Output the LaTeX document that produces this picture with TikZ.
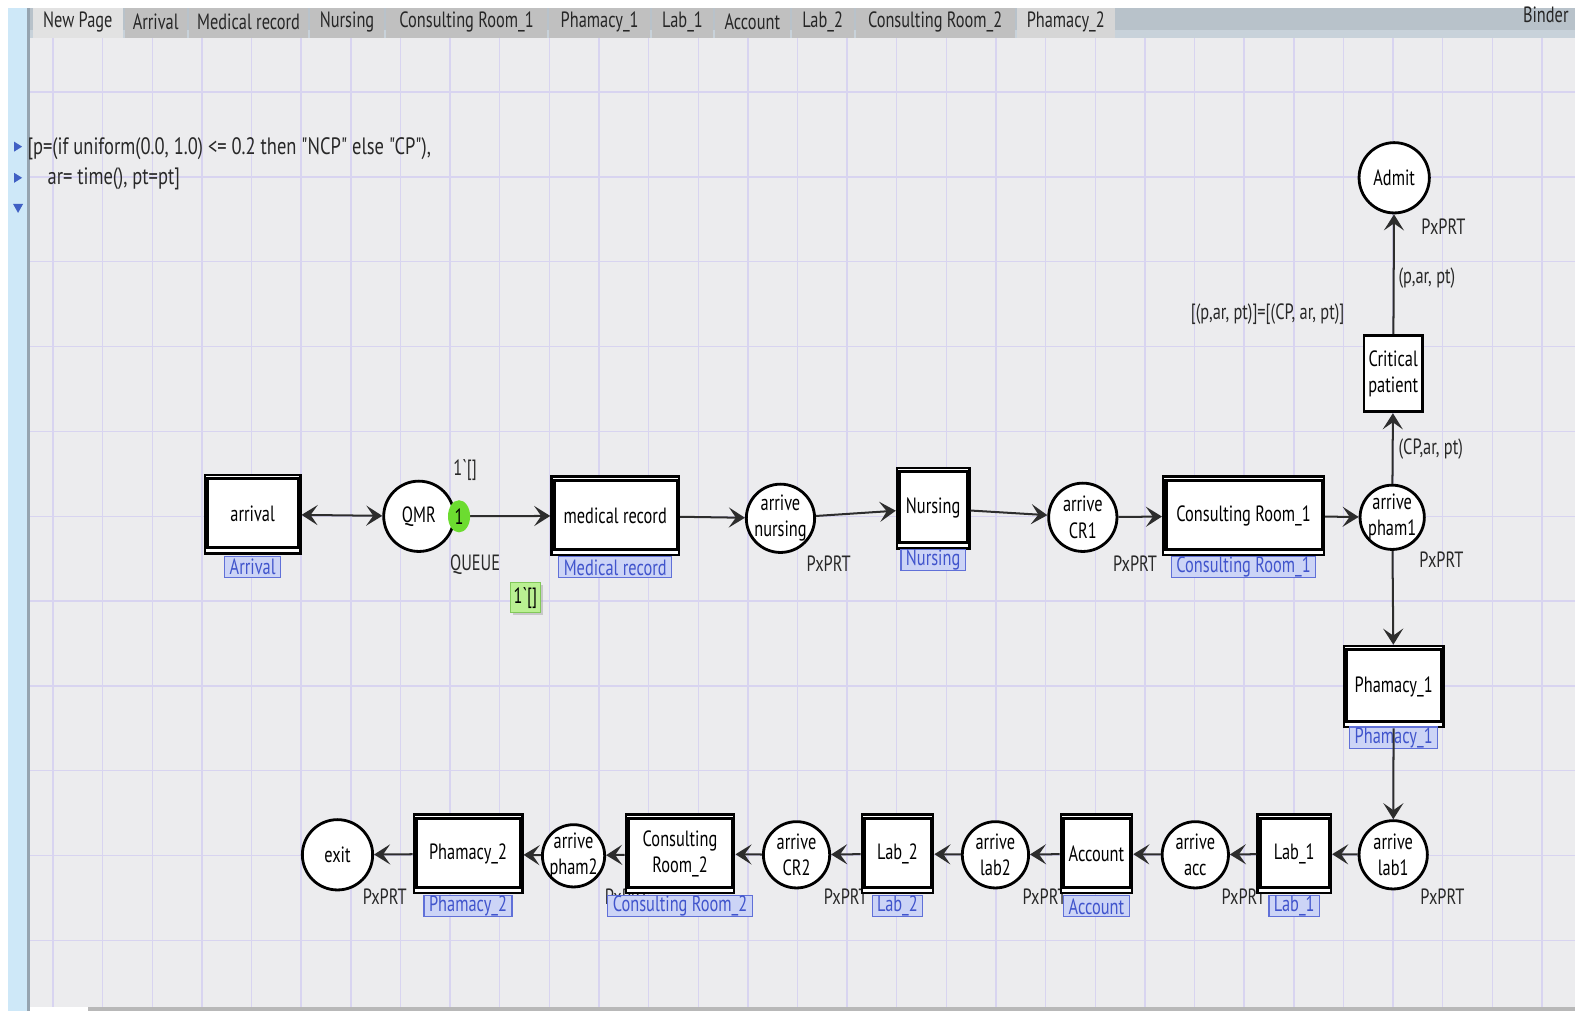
\documentclass[tikz,border=0pt]{standalone}
\usepackage{fontspec}
\setmainfont{PT Sans}[FakeStretch=0.74,Ligatures=TeXOff]
\newfontfamily\declfont{PT Sans}[FakeStretch=0.78,Ligatures=TeXOff]
\usetikzlibrary{positioning,arrows.meta,shapes.geometric,shadows}

\definecolor{canvas}{RGB}{236,236,238}
\definecolor{gridl}{RGB}{216,212,240}
\definecolor{leftbar}{RGB}{206,232,248}
\definecolor{leftedge}{RGB}{150,164,176}
\definecolor{barc}{RGB}{184,194,202}
\definecolor{barlow}{RGB}{200,210,218}
\definecolor{tabon}{RGB}{226,226,226}
\definecolor{taboff}{RGB}{192,192,192}
\definecolor{tabpale}{RGB}{214,214,214}
\definecolor{tagfill}{RGB}{204,212,246}
\definecolor{tagline}{RGB}{96,112,216}
\definecolor{tagtext}{RGB}{64,84,204}
\definecolor{inscr}{RGB}{40,40,40}
\definecolor{arcc}{RGB}{45,45,45}
\definecolor{tokgreen}{RGB}{108,220,48}
\definecolor{boxgreen}{RGB}{186,240,146}
\definecolor{boxline}{RGB}{130,200,90}
\definecolor{trib}{RGB}{64,96,196}

\newcommand{\lblfont}{\fontsize{11}{13}\selectfont}

\begin{document}
\begin{tikzpicture}[x=0.5pt,y=-0.5pt]
\tikzset{
  place/.style={circle,draw=black,line width=1.4pt,fill=white,minimum size=34pt,inner sep=0pt},
  ptxt/.style={align=center,font=\lblfont,inner sep=0pt},
  subst/.style={draw=black,line width=1.2pt,fill=white,inner sep=0pt,minimum height=39pt,font=\lblfont},
  trans/.style={draw=black,line width=1.4pt,fill=white,inner sep=0pt,align=center,font=\lblfont},
  tag/.style={draw=tagline,fill=tagfill,text=tagtext,line width=0.6pt,inner xsep=2.5pt,inner ysep=0pt,minimum height=10.5pt,font=\lblfont},
  ptype/.style={text=inscr,font=\lblfont,inner sep=0pt},
  arc/.style={draw=arcc,line width=1pt,-{Stealth[length=8pt,width=10pt,inset=3.5pt]}},
  arcs/.style={arc,{Stealth[length=8pt,width=10pt,inset=3.5pt]}-{Stealth[length=8pt,width=10pt,inset=3.5pt]}},
  tabtxt/.style={font=\lblfont,text=black!85,inner sep=0pt},
  tokbox/.style={draw=boxline,fill=boxgreen,line width=0.5pt,minimum size=15pt,inner sep=0pt,font=\lblfont,
    drop shadow={shadow xshift=1.2pt,shadow yshift=-1.2pt,fill=black!35}}
}
\useasboundingbox (0,0) rectangle (1568,1006);

% window frame
\fill[white] (0,0) rectangle (1568,1006);
\fill[canvas] (30,38) rectangle (1568,1003);
\fill[leftbar] (8,8) rectangle (27,1006);
\fill[leftedge] (27,8) rectangle (30,1006);
\fill[black!28] (88,1003) rectangle (1568,1006);

% grid
\foreach \k in {0,...,30}
  \draw[gridl,line width=0.7pt] ({52.8+49.41*\k},38) -- ({52.8+49.41*\k},1003);
\foreach \k in {0,...,10}
  \draw[gridl,line width=0.7pt] (30,{91.6+84.47*\k}) -- (1568,{91.6+84.47*\k});

% tabs
\fill[barc] (30,8) rectangle (1568,30);
\fill[barlow] (30,30) rectangle (1568,38);
\foreach \a/\b/\t/\c in {33/122/New Page/tabon, 124/186/Arrival/taboff, 188/307/Medical record/taboff,
    309/382/Nursing/taboff, 384/545/Consulting Room\_1/taboff, 547/647/Phamacy\_1/taboff,
    649/710/Lab\_1/taboff, 712/786/Account/taboff, 788/850/Lab\_2/taboff,
    852/1010/Consulting Room\_2/taboff, 1012/1110/Phamacy\_2/tabpale}
{
  \fill[\c] (\a,8) rectangle (\b,38);
  \node[tabtxt] (tab-\a) at ({(\a+\b)/2},22) {\t};
}
\node[tabtxt,anchor=east] (binder) at (1562,15) {Binder};

% declarations index
\fill[trib] (14,141) -- (22,146) -- (14,151) -- cycle;
\fill[trib] (14,172) -- (22,177) -- (14,182) -- cycle;
\fill[trib] (13,203) -- (23,203) -- (18,212) -- cycle;
\node[ptype,font=\declfont\fontsize{11.8}{14}\selectfont,anchor=west] (decl1) at (27,148) {[p=(if uniform(0.0, 1.0) <= 0.2 then "NCP" else "CP"),};
\node[ptype,font=\declfont\fontsize{11.8}{14}\selectfont,anchor=west] (decl2) at (47,178) {ar= time(), pt=pt]};

% places
\node[place,minimum size=35pt,label={[ptxt]center:QMR}] (qmr) at (417,514) {};
\node[place,label={[ptxt]center:{arrive\\nursing}}] (an) at (777,516) {};
\node[place,label={[ptxt]center:{arrive\\CR1}}] (acr1) at (1078,515) {};
\node[place,minimum size=32pt,label={[ptxt]center:{arrive\\pham1}}] (aph1) at (1386,515) {};
\node[place,minimum size=35pt,label={[ptxt]center:Admit}] (adm) at (1388,177) {};
\node[place,label={[ptxt]center:{arrive\\lab1}}] (alab1) at (1387,851) {};
\node[place,minimum size=33pt,label={[ptxt]center:{arrive\\acc}}] (aacc) at (1190,851) {};
\node[place,minimum size=33pt,label={[ptxt]center:{arrive\\lab2}}] (alab2) at (991,851) {};
\node[place,minimum size=33pt,label={[ptxt]center:{arrive\\CR2}}] (acr2) at (793,851) {};
\node[place,minimum size=31pt,label={[ptxt]center:{arrive\\pham2}}] (aph2) at (571,852) {};
\node[place,minimum size=35pt,label={[ptxt]center:exit}] (exit) at (336,851) {};

% place types
\node[ptype] (qmr-t) at (473,562) {QUEUE};
\node[ptype] (an-t) at (825,561) {PxPRT};
\node[ptype] (acr1-t) at (1130,561) {PxPRT};
\node[ptype] (aph1-t) at (1435,557) {PxPRT};
\node[ptype] (adm-t) at (1437,226) {PxPRT};
\node[ptype] (alab1-t) at (1436,893) {PxPRT};
\node[ptype] (aacc-t) at (1238,893) {PxPRT};
\node[ptype] (alab2-t) at (1040,893) {PxPRT};
\node[ptype] (acr2-t) at (842,893) {PxPRT};
\node[ptype] (aph2-t) at (624,893) {PxPRT};
\node[ptype] (exit-t) at (383,893) {PxPRT};

% substitution transitions
\node[subst,minimum width=47.5pt] (arr) at (251.5,512) {arrival};
\node[subst,minimum width=63.5pt] (mr) at (612.5,513.5) {medical record};
\node[subst,minimum width=36pt,minimum height=40pt] (nur) at (929,506) {Nursing};
\node[subst,minimum width=80pt] (cr1) at (1238,513.5) {Consulting Room\_1};
\node[subst,minimum width=49.5pt,minimum height=40.5pt] (ph1) at (1387.5,683.5) {Phamacy\_1};
\node[subst,minimum width=36.5pt] (lab1) at (1288.5,850) {Lab\_1};
\node[subst,minimum width=35.5pt] (acc) at (1091.5,850) {Account};
\node[subst,minimum width=35.5pt] (lab2) at (893.5,850) {Lab\_2};
\node[subst,minimum width=54pt,align=center] (cr2) at (677,850) {Consulting\\Room\_2};
\node[subst,minimum width=54pt] (ph2) at (466,850) {Phamacy\_2};
\foreach \n in {arr,mr,nur,cr1,ph1,lab1,acc,lab2,cr2,ph2}
  \draw[line width=1.5pt] ([xshift=2pt,yshift=-2.5pt]\n.north west) rectangle ([xshift=-1.5pt,yshift=3.5pt]\n.south east);

\node[trans,minimum width=29pt,minimum height=38pt] (crit) at (1387,372) {Critical\\patient};

% hierarchy tags
\node[tag,below=0.5pt of arr] (arr-g) {Arrival};
\node[tag,below=0pt of mr] (mr-g) {Medical record};
\node[tag,below=-0.5pt of nur] (nur-g) {Nursing};
\node[tag,below=0pt of cr1] (cr1-g) {Consulting Room\_1};
\node[tag,below=-1pt of ph1] (ph1-g) {Phamacy\_1};
\node[tag,below=0.5pt of lab1] (lab1-g) {Lab\_1};
\node[tag,below=0.5pt of acc] (acc-g) {Account};
\node[tag,below=0.5pt of lab2] (lab2-g) {Lab\_2};
\node[tag,below=0.5pt of cr2] (cr2-g) {Consulting Room\_2};
\node[tag,below=0.5pt of ph2] (ph2-g) {Phamacy\_2};

% arcs
\draw[arcs] (arr) -- (qmr);
\draw[arc] (qmr) -- (mr);
\draw[arc] (mr) -- (an);
\draw[arc] (an) -- (nur);
\draw[arc] (nur) -- (acr1);
\draw[arc] (acr1) -- (cr1);
\draw[arc] (cr1) -- (aph1);
\draw[arc] (aph1) -- (crit);
\draw[arc] (crit) -- (adm);
\draw[arc] (aph1) -- (ph1);
\draw[arc] (ph1) -- (alab1);
\draw[arc] (alab1) -- (lab1);
\draw[arc] (lab1) -- (aacc);
\draw[arc] (aacc) -- (acc);
\draw[arc] (acc) -- (alab2);
\draw[arc] (alab2) -- (lab2);
\draw[arc] (lab2) -- (acr2);
\draw[arc] (acr2) -- (cr2);
\draw[arc] (cr2) -- (aph2);
\draw[arc] (aph2) -- (ph2);
\draw[arc] (ph2) -- (exit);

% inscriptions
\node[ptype,anchor=west] (ins1) at (1392,277) {(p,ar, pt)};
\node[ptype] (ins2) at (1262,313) {[(p,ar, pt)]=[(CP, ar, pt)]};
\node[ptype,anchor=west] (ins3) at (1392,447) {(CP,ar, pt)};

% marking
\node[ptype] (init) at (463,468) {1`[]};
\node[ellipse,fill=tokgreen,minimum width=11pt,minimum height=16pt,inner sep=0pt,font=\lblfont] (tok) at (457,514) {1};
\node[tokbox] (mk) at (523,595) {1`[]};
\end{tikzpicture}
\end{document}
